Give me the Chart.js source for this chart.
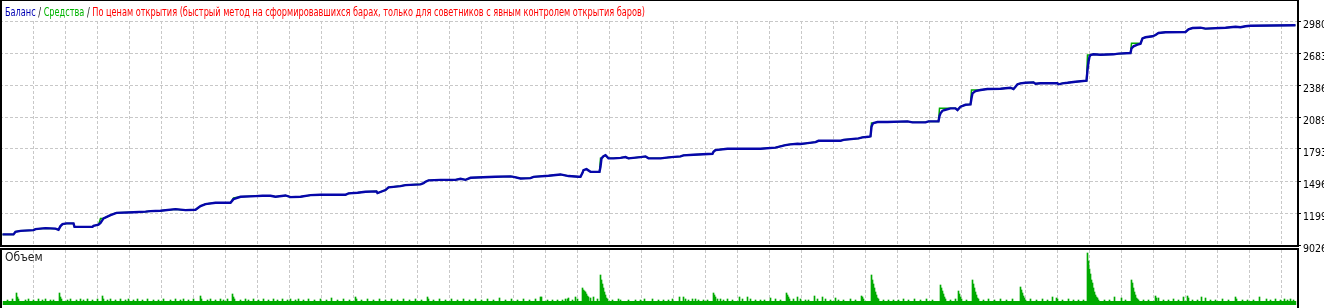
<!DOCTYPE html>
<html><head><meta charset="utf-8">
<script src="https://cdn.jsdelivr.net/npm/chart.js@4"></script>
<style>
html,body{margin:0;padding:0;background:#fff;overflow:hidden}
#wrap{position:relative;width:1324px;height:308px;background:#fff}
canvas{position:absolute;left:0}
#c1{top:0}
#c2{top:247px}
</style></head><body>
<div id="wrap"><canvas id="c1" width="1324" height="256"></canvas><canvas id="c2" width="1324" height="61"></canvas></div>
<script>
// ---- data (trade number, value) ----
const balancePts = [[2,1001],[13,1001],[15,1025],[20,1034],[33,1040],[35,1050],[45,1059],[55,1054],[58,1043],[60,1078],[62,1096],[66,1103],[73,1103],[74,1071],[92,1071],[93,1080],[98,1091],[100,1108],[103,1149],[110,1180],[116,1201],[133,1207],[145,1212],[150,1217],[160,1220],[175,1235],[185,1226],[195,1229],[200,1263],[205,1282],[215,1294],[230,1294],[233,1328],[240,1350],[255,1356],[262,1359],[270,1359],[275,1350],[285,1362],[290,1347],[300,1350],[310,1365],[320,1368],[345,1368],[348,1381],[357,1387],[365,1396],[376,1400],[377,1384],[385,1412],[388,1437],[393,1442],[400,1449],[405,1458],[420,1465],[423,1477],[425,1489],[428,1502],[440,1507],[455,1507],[460,1517],[465,1507],[470,1526],[495,1535],[510,1539],[513,1535],[520,1520],[530,1523],[533,1535],[548,1545],[560,1557],[568,1542],[578,1535],[580,1535],[582,1572],[583,1597],[586,1606],[590,1581],[599,1581],[600,1628],[601,1706],[603,1727],[605,1736],[608,1706],[613,1706],[620,1711],[625,1718],[628,1706],[640,1718],[645,1724],[648,1706],[660,1706],[668,1715],[680,1724],[683,1734],[693,1740],[712,1749],[713,1767],[715,1783],[727,1795],[760,1795],[775,1806],[785,1829],[790,1836],[797,1841],[800,1839],[805,1845],[815,1857],[818,1869],[840,1869],[843,1878],[858,1891],[862,1901],[868,1906],[870,1910],[871,1999],[872,2024],[873,2033],[877,2043],[887,2043],[907,2049],[912,2040],[925,2040],[928,2049],[938,2049],[939,2098],[940,2123],[942,2148],[945,2157],[950,2170],[955,2170],[957,2154],[960,2185],[965,2203],[970,2207],[971,2263],[972,2309],[975,2330],[980,2340],[987,2349],[1000,2352],[1010,2361],[1013,2349],[1015,2370],[1017,2393],[1020,2402],[1025,2407],[1033,2411],[1035,2398],[1040,2402],[1057,2402],[1058,2393],[1062,2402],[1067,2407],[1075,2417],[1086,2426],[1087,2525],[1088,2602],[1089,2649],[1090,2664],[1093,2671],[1100,2667],[1113,2671],[1118,2677],[1130,2683],[1131,2727],[1133,2745],[1137,2760],[1140,2769],[1142,2819],[1145,2829],[1152,2838],[1155,2850],[1158,2869],[1165,2875],[1185,2878],[1188,2903],[1192,2915],[1200,2918],[1205,2909],[1225,2918],[1235,2927],[1240,2922],[1245,2931],[1250,2936],[1295,2940]];

// equity where it differs from balance
const equityPeaks = [[100,1149],[101,1149],[233,1340],[600,1706],[871,2033],[872,2033],[939,2170],[940,2170],[942,2170],[945,2170],[971,2340],[972,2340],[975,2340],[1087,2664],[1088,2664],[1089,2664],[1131,2773],[1133,2773],[1137,2773],[1138,2773]];

const yTickValues = [2980, 2683, 2386, 2089, 1793, 1496, 1199, 902.6];
const yTickLabels = ['2980', '2683', '2386', '2089', '1793', '1496', '1199', '9026'];

const volumeBase = 4;
const volumeBars = [[7,5],[12,6],[16,12],[17,8],[18,6],[25,5],[28,6],[33,5],[38,6],[42,5],[45,6],[50,5],[53,5],[59,12],[60,8],[61,6],[67,5],[70,6],[76,5],[80,6],[83,5],[87,6],[92,5],[97,6],[102,9],[103,6],[107,5],[110,6],[115,5],[120,6],[125,5],[128,6],[133,5],[137,6],[142,5],[147,6],[153,5],[158,5],[163,6],[170,5],[175,6],[180,5],[183,6],[188,5],[193,6],[200,9],[201,6],[207,5],[210,6],[215,5],[220,6],[223,5],[227,6],[232,11],[233,8],[234,6],[240,5],[245,6],[248,5],[253,6],[258,5],[263,6],[268,5],[273,6],[277,5],[282,6],[287,5],[290,6],[295,5],[298,6],
[303,5],[308,6],[314,5],[320,6],[326,5],[331,7],[337,5],[343,6],[349,5],[355,8],[356,6],[361,5],[367,6],[373,5],[379,6],[385,5],[391,6],[397,5],[403,6],[409,5],[415,6],[421,5],[427,8],[428,6],[433,5],[439,6],[445,5],[451,6],[457,5],[463,6],[469,5],[475,6],[481,5],[487,6],[493,5],[499,7],[505,5],[511,6],[517,5],[523,6],[529,5],[535,6],
[540,8],[541,8],[547,5],[552,5],[557,5],[562,5],[565,6],[567,6],[568,7],[572,5],[575,8],[577,6],[582,17],[583,15],[584,14],[585,13],[586,11],[587,9],[588,8],[590,7],[593,8],[597,6],[600,30],[601,25],[602,21],[603,17],[604,13],[605,10],[606,7],[607,6],[612,5],[618,6],[620,5],[628,5],[635,5],[640,5],[644,6],[652,6],[658,5],[663,5],[668,5],[672,6],[679,8],[683,8],[685,6],[688,5],[692,6],[695,6],[698,5],[703,5],[707,5],[713,12],[714,10],[715,8],[717,6],[720,6],[723,5],[727,6],[732,5],[739,8],[742,6],[747,8],[750,6],[755,5],[760,5],[764,5],[770,7],[775,6],[780,5],[786,12],[787,10],[788,8],[789,6],[793,6],[797,8],[800,6],[805,5],[808,5],[814,9],[817,6],[822,8],[825,6],[830,5],[835,7],[838,5],[843,5],[850,6],[855,5],[861,9],[862,8],[863,6],[871,30],[872,25],[873,21],[874,17],[875,13],[876,10],[877,7],[878,6],[883,5],[888,5],[893,5],[898,5],
[903,6],[908,5],[914,6],[920,5],[926,6],[932,5],[940,20],[941,17],[942,14],[943,11],[944,8],[945,6],[950,5],[955,6],[958,14],[959,11],[960,8],[961,6],[966,5],[972,25],[973,21],[974,17],[975,13],[976,10],[977,7],[978,6],[983,5],[988,6],[994,5],[1000,6],[1006,5],[1012,6],[1020,18],[1021,15],[1022,12],[1023,9],[1024,7],[1025,5],[1030,6],[1036,5],[1042,6],[1047,5],
[1052,8],[1056,7],[1057,6],[1062,5],[1068,6],[1073,5],[1078,5],[1083,5],[1087,52],[1088,44],[1089,36],[1090,31],[1091,25],[1092,22],[1093,17],[1094,13],[1095,10],[1096,8],[1097,7],[1098,5],[1104,5],[1109,5],[1114,8],[1121,7],[1125,5],[1131,25],[1132,22],[1133,17],[1134,13],[1135,10],[1136,7],[1137,6],[1138,5],[1143,5],[1148,5],[1155,9],[1156,7],[1158,7],[1163,5],[1168,5],[1173,6],[1178,5],[1183,8],[1187,9],[1188,7],[1192,5],[1197,5],[1201,8],[1205,7],[1210,5],[1215,5],[1222,6],[1228,5],[1235,8],[1236,6],[1242,5],[1247,5],[1253,5],[1259,8],[1266,6],[1270,5],[1275,6],[1280,5],[1284,6],[1287,5],[1290,6],[1293,5]];

const titleParts = [['Баланс', '#0000b4'], [' / ', '#101010'], ['Средства', '#00b400'], [' / ', '#101010'], ['По ценам открытия (быстрый метод на сформировавшихся барах, только для советников с явным контролем открытия баров)', '#ff0000']];
const volumeTitle = 'Объем';

// ---- build ----
const FONT = '"DejaVu Sans Condensed","DejaVu Sans",sans-serif';
const balanceData = balancePts.map(p => ({x: p[0], y: p[1]}));
const eqMap = new Map(equityPeaks.map(p => [p[0], p[1]]));
const equityData = balancePts.map(p => ({x: p[0], y: eqMap.has(p[0]) ? eqMap.get(p[0]) : p[1]}));
equityPeaks.forEach(p => { if (!balancePts.some(b => b[0] === p[0])) equityData.push({x: p[0], y: p[1]}); });
equityData.sort((a, b) => a.x - b.x);
const firstTrade = balancePts[0][0], lastTrade = balancePts[balancePts.length - 1][0];
const volData = volumeBars.map(p => ({x: p[0], y: p[1]}));
const baseData = [{x: firstTrade, y: volumeBase}, {x: lastTrade + 1, y: volumeBase}];

const gridTrades = [];
for (let t = 33; t <= 1281; t += 32) gridTrades.push(t);

const X_MIN = -0.5, X_MAX = 1296.5;
const GRID = '#c8c8c8';

const xScale = () => ({
  type: 'linear', min: X_MIN, max: X_MAX, position: 'bottom', offset: false,
  afterBuildTicks: s => { s.ticks = gridTrades.map(v => ({value: v})); },
  afterFit: s => { s.height = 0; s.paddingLeft = 0; s.paddingRight = 0; },
  ticks: {display: false, autoSkip: false},
  grid: {color: GRID, lineWidth: 1, drawTicks: false, offset: false},
  border: {display: false, dash: [3, 2]}
});

function borderPlugin(sides) {
  return {
    id: 'panelBorder',
    afterDraw(chart) {
      const ctx = chart.ctx;
      ctx.save();
      ctx.fillStyle = '#000';
      const bot = sides.bottom !== undefined ? sides.bottom + 2 : chart.height;
      ctx.fillRect(0, sides.top, 1299, sides.topW);
      if (sides.bottom !== undefined) ctx.fillRect(0, sides.bottom, 1299, 2);
      ctx.fillRect(0, sides.top, 2, bot - sides.top);
      ctx.fillRect(1297, sides.top, 2, bot - sides.top);
      ctx.restore();
    }
  };
}

const titlePlugin = {
  id: 'mtTitle',
  afterDraw(chart) {
    const ctx = chart.ctx;
    ctx.save();
    ctx.font = '12px ' + FONT;
    ctx.textBaseline = 'alphabetic';
    let total = 0;
    titleParts.forEach(p => total += ctx.measureText(p[0]).width);
    const k = Math.min(1, 640 / total);
    ctx.translate(5, 16);
    ctx.scale(k, 1);
    let x = 0;
    titleParts.forEach(p => { ctx.fillStyle = p[1]; ctx.fillText(p[0], x, 0); x += ctx.measureText(p[0]).width; });
    ctx.restore();
  }
};

new Chart(document.getElementById('c1'), {
  type: 'line',
  data: {datasets: [
    {label: 'Баланс', data: balanceData, borderColor: '#0606aa', borderWidth: 2.4, pointRadius: 0, tension: 0, fill: false},
    {label: 'Средства', data: equityData, borderColor: '#00aa00', borderWidth: 1.5, pointRadius: 0, tension: 0, fill: false}
  ]},
  options: {
    responsive: false, animation: false, devicePixelRatio: 1,
    layout: {padding: {left: 0, right: 0, top: 21, bottom: 11}},
    plugins: {legend: {display: false}, tooltip: {enabled: false}, title: {display: false}},
    scales: {
      x: xScale(),
      y: {
        type: 'linear', position: 'right', min: 902.6, max: 2980,
        afterBuildTicks: s => { s.ticks = yTickValues.map(v => ({value: v})); },
        afterFit: s => { s.width = 27; s.paddingTop = 0; s.paddingBottom = 0; },
        ticks: {autoSkip: false, padding: 2, labelOffset: 4, color: '#000',
          font: {family: FONT, size: 10.5},
          callback: (v, i) => yTickLabels[i]},
        grid: {color: GRID, lineWidth: 1, drawTicks: true, tickLength: 4, tickColor: '#000', tickBorderDash: [], tickWidth: 1},
        border: {display: false, dash: [3, 2]}
      }
    }
  },
  plugins: [borderPlugin({top: 0, topW: 1, bottom: 245}), titlePlugin]
});

const volTitlePlugin = {
  id: 'volTitle',
  afterDraw(chart) {
    const ctx = chart.ctx;
    ctx.save();
    ctx.font = '12px ' + FONT;
    ctx.fillStyle = '#202020';
    ctx.fillText(volumeTitle, 5, 14);
    ctx.restore();
  }
};

new Chart(document.getElementById('c2'), {
  type: 'bar',
  data: {datasets: [
    {type: 'line', label: 'base', data: baseData, borderWidth: 0, borderColor: 'rgba(0,0,0,0)', backgroundColor: '#00aa00', fill: 'origin', pointRadius: 0, tension: 0},
    {type: 'bar', label: 'Объем', data: volData, backgroundColor: '#00aa00', barThickness: 1, borderWidth: 0}
  ]},
  options: {
    responsive: false, animation: false, devicePixelRatio: 1,
    layout: {padding: {left: 0, right: 0, top: 3, bottom: 3}},
    plugins: {legend: {display: false}, tooltip: {enabled: false}},
    scales: {
      x: xScale(),
      y: {
        type: 'linear', position: 'right', min: 0, max: 55,
        afterFit: s => { s.width = 27; s.paddingTop = 0; s.paddingBottom = 0; },
        ticks: {display: false},
        grid: {display: false},
        border: {display: false}
      }
    }
  },
  plugins: [borderPlugin({top: 1, topW: 2}), volTitlePlugin]
});
</script>
</body></html>
